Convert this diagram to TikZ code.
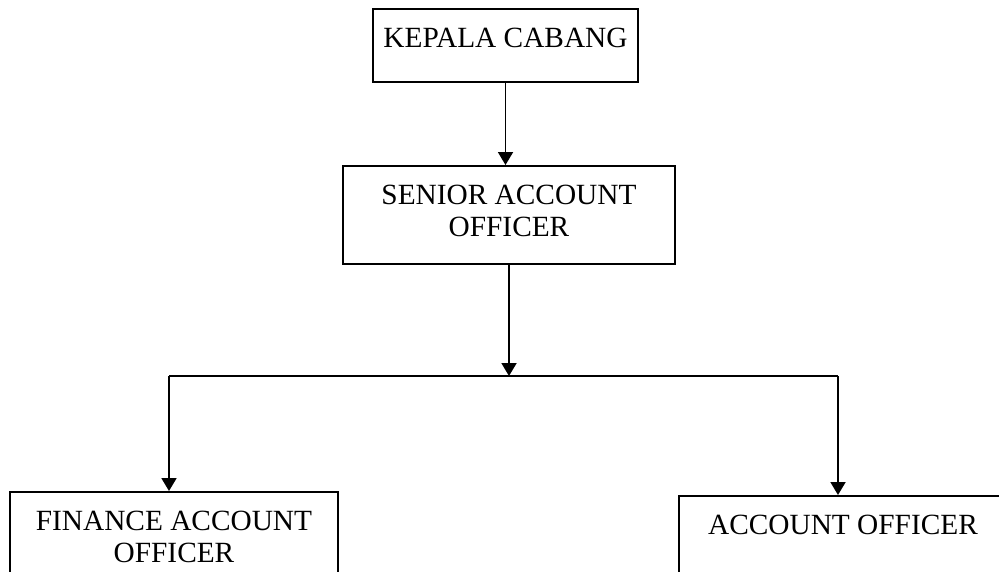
\documentclass[tikz,border=0pt]{standalone}
\usepackage{fontspec}
\setmainfont{Liberation Serif}
\usetikzlibrary{arrows.meta}

\begin{document}
\begin{tikzpicture}[x=0.75pt, y=-0.75pt,
        jabatan/.style={draw, line width=1.4pt, inner xsep=0pt, inner ysep=14pt, anchor=north,
            font=\fontsize{22}{24.7}\selectfont},
        garis/.style={line width=1.4pt},
        panah/.style={line width=1.4pt, -{Triangle[length=9.75pt, width=11.25pt]}}]
    \useasboundingbox (0,0) rectangle (999,571);
    \clip (0,0) rectangle (999,571);
    \node [jabatan] (kepala) at (505.5,8) {\parbox[t][26.75pt][t]{198.75pt}{\centering KEPALA CABANG}};
    \node [jabatan] (senior) at (509,165) {\parbox[t][45.5pt][t]{249pt}{\centering SENIOR ACCOUNT\\OFFICER}};
    \node [jabatan] (finance) at (174,491) {\parbox[t][45.5pt][t]{246pt}{\centering FINANCE ACCOUNT\\OFFICER}};
    \node [jabatan] (account) at (843,495) {\parbox[t][45.5pt][t]{246pt}{\centering ACCOUNT OFFICER}};
    % garis cabang
    \coordinate (cabang) at (509,376);
    \coordinate (kiri) at (169,376);
    \coordinate (kanan) at (838,376);
    \draw [panah] (kepala.south) -- (kepala.south |- senior.north);
    \draw [panah] (senior.south) -- (cabang);
    \draw [garis] (kiri) -- (kanan);
    \draw [panah] (kiri) -- (kiri |- finance.north);
    \draw [panah] (kanan) -- (kanan |- account.north);
\end{tikzpicture}
\end{document}
